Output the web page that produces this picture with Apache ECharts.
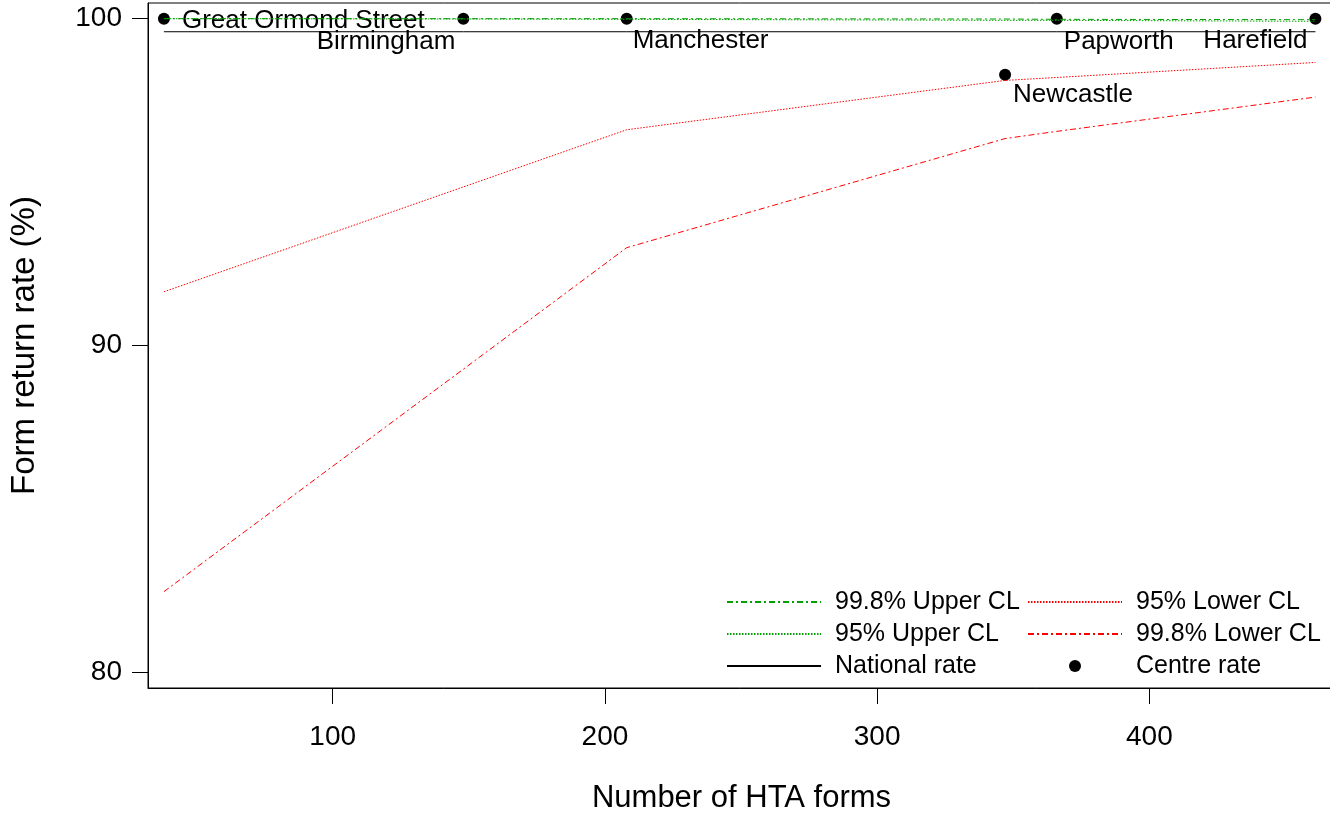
<!DOCTYPE html>
<html>
<head>
<meta charset="utf-8">
<script src="https://cdn.jsdelivr.net/npm/echarts@6/dist/echarts.min.js"></script>
<style>
html,body{margin:0;padding:0;background:#fff;}
#chart{width:1330px;height:815px;}
</style>
</head>
<body>
<div id="chart"></div>
<script>
// ---- data ----
const centres = ['Great Ormond Street', 'Birmingham', 'Manchester', 'Newcastle', 'Papworth', 'Harefield'];
const forms = [38, 148, 208, 347, 366, 461];
const centreRate = [100, 100, 100, 98.28, 100, 100];
const nationalRate = [99.6, 99.6, 99.6, 99.6, 99.6, 99.6];
const upper998 = [100, 100, 100, 99.99, 99.98, 99.97];
const upper95 = [100, 99.99, 99.98, 99.95, 99.95, 99.92];
const lower95 = [91.64, 94.85, 96.60, 98.11, 98.20, 98.66];
const lower998 = [82.46, 89.27, 92.99, 96.33, 96.55, 97.60];
const xTicks = [100, 200, 300, 400];
const yTicks = [80, 90, 100];

// label placement (style only)
const labelPlacement = {
  'Great Ormond Street': {align: 'left', offset: [18, 2]},
  'Birmingham': {align: 'right', offset: [-8, 23]},
  'Manchester': {align: 'left', offset: [6, 22]},
  'Newcastle': {align: 'left', offset: [8, 20]},
  'Papworth': {align: 'left', offset: [7, 23]},
  'Harefield': {align: 'right', offset: [-8, 22]}
};

const FONT = 'Liberation Sans, Arial, Helvetica, sans-serif';
const GREEN = '#00a000';
const RED = '#ff0000';

function pairs(ys) { return forms.map((x, i) => [x, ys[i]]); }

const legendBase = {
  orient: 'vertical', top: 589, padding: 0,
  itemWidth: 94, itemHeight: 12, itemGap: 6,
  textStyle: {fontSize: 25, lineHeight: 26, color: '#000', fontFamily: FONT, padding: [0, 0, 0, 9]},
  selectedMode: false
};

const chart = echarts.init(document.getElementById('chart'), null, {renderer: 'canvas'});
chart.setOption({
  animation: false,
  backgroundColor: '#fff',
  textStyle: {fontFamily: FONT},
  grid: {
    left: 148, right: -5, top: 3, bottom: 127,
    show: true, borderColor: '#000', borderWidth: 1,
    containLabel: false, outerBoundsMode: 'none'
  },
  xAxis: {
    type: 'value', min: 32.15, max: 468.2,
    name: 'Number of HTA forms', nameLocation: 'middle', nameGap: 95,
    nameTextStyle: {fontSize: 31, color: '#000', fontFamily: FONT},
    axisLine: {show: true, lineStyle: {color: '#000', width: 1}},
    axisTick: {show: true, inside: false, length: 16, customValues: xTicks, lineStyle: {color: '#000', width: 1}},
    axisLabel: {show: true, customValues: xTicks, margin: 35, fontSize: 28, color: '#000', fontFamily: FONT},
    splitLine: {show: false}
  },
  yAxis: {
    type: 'value', min: 79.51, max: 100.48,
    name: 'Form return rate (%)', nameLocation: 'middle', nameGap: 107,
    nameTextStyle: {fontSize: 33, color: '#000', fontFamily: FONT},
    axisLine: {show: true, lineStyle: {color: '#000', width: 1}},
    axisTick: {show: true, inside: false, length: 16, customValues: yTicks, lineStyle: {color: '#000', width: 1}},
    axisLabel: {show: true, customValues: yTicks, margin: 26, fontSize: 28, color: '#000', fontFamily: FONT},
    splitLine: {show: false}
  },
  legend: [
    Object.assign({}, legendBase, {left: 726, data: ['99.8% Upper CL', '95% Upper CL', 'National rate']}),
    Object.assign({}, legendBase, {left: 1027, data: ['95% Lower CL', '99.8% Lower CL', 'Centre rate']})
  ],
  series: [
    {
      name: '99.8% Upper CL', type: 'line', data: pairs(upper998), symbol: 'none',
      lineStyle: {color: GREEN, width: 1, type: [6, 3, 2, 3]}, itemStyle: {color: GREEN, opacity: 0}
    },
    {
      name: '95% Upper CL', type: 'line', data: pairs(upper95), symbol: 'none',
      lineStyle: {color: GREEN, width: 1, type: [1.5, 1.5]}, itemStyle: {color: GREEN, opacity: 0}
    },
    {
      name: 'National rate', type: 'line', data: pairs(nationalRate), symbol: 'none',
      lineStyle: {color: '#000', width: 1, type: 'solid'}, itemStyle: {color: '#000', opacity: 0}
    },
    {
      name: '95% Lower CL', type: 'line', data: pairs(lower95), symbol: 'none',
      lineStyle: {color: RED, width: 1, type: [1.5, 1.5]}, itemStyle: {color: RED, opacity: 0}
    },
    {
      name: '99.8% Lower CL', type: 'line', data: pairs(lower998), symbol: 'none',
      lineStyle: {color: RED, width: 1, type: [6, 3, 2, 3]}, itemStyle: {color: RED, opacity: 0}
    },
    {
      name: 'Centre rate', type: 'scatter', symbol: 'circle', symbolSize: 12,
      itemStyle: {color: '#000', opacity: 1},
      label: {show: true, fontSize: 26, color: '#000', fontFamily: FONT, position: 'inside', formatter: p => p.name},
      data: centres.map((c, i) => ({
        name: c,
        value: [forms[i], centreRate[i]],
        label: {align: labelPlacement[c].align, offset: labelPlacement[c].offset}
      }))
    }
  ]
});
</script>
</body>
</html>
